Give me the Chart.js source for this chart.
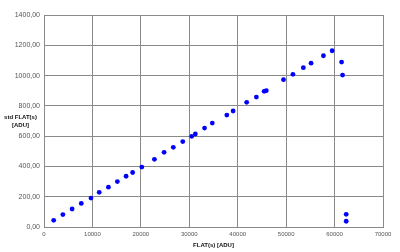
<!DOCTYPE html>
<html>
<head>
<meta charset="utf-8">
<script src="https://cdn.jsdelivr.net/npm/chart.js@4"></script>
<style>
html,body{margin:0;padding:0;background:#fff;}
#wrap{position:relative;width:400px;height:252px;}
#ytitle{position:absolute;left:0;top:113px;width:41px;text-align:center;font:bold 6px "Liberation Sans",Arial,sans-serif;line-height:8px;color:#111;}
</style>
</head>
<body>
<div id="wrap">
<canvas id="c" width="400" height="252"></canvas>
<div id="ytitle">std FLAT(s)<br>[ADU]</div>
</div>
<script>
const flatX = [2000, 3900, 5800, 7700, 9700, 11400, 13300, 15150, 16950, 18300, 20200, 22800, 24800, 26700, 28650, 30500, 31250, 33150, 34750, 37750, 39050, 41850, 43850, 45450, 45900, 49450, 51400, 53550, 55150, 57700, 59500, 61450, 61650, 62400, 62400];
const stdY = [44, 82, 119, 156, 191, 229, 263, 300, 335, 360, 396, 447, 493, 526, 564, 599, 614, 653, 686, 739, 766, 823, 858, 896, 900, 973, 1008, 1052, 1082, 1131, 1164, 1089, 1003, 84, 38];
const xTitle = "FLAT(s) [ADU]";

const points = flatX.map((x, i) => ({x: x, y: stdY[i]}));
const gridColor = '#8a8a8a';
const font = '"Liberation Sans", Arial, sans-serif';

new Chart(document.getElementById('c'), {
  type: 'scatter',
  data: {datasets: [{data: points, backgroundColor: '#0000ff', borderWidth: 0, pointRadius: 2.4, pointHoverRadius: 2.4}]},
  options: {
    responsive: false, animation: false,
    layout: {padding: {top: 15, right: 17, left: 0, bottom: 0}},
    plugins: {legend: {display: false}, tooltip: {enabled: false}},
    scales: {
      x: {
        type: 'linear', min: 0, max: 70000,
        grid: {color: gridColor, drawTicks: false, lineWidth: 1},
        border: {color: gridColor},
        ticks: {stepSize: 10000, autoSkip: false, maxRotation: 0, padding: 4, color: '#555', font: {family: font, size: 6},
          callback: v => String(v)},
        title: {display: true, text: xTitle, color: '#111', font: {family: font, size: 6, weight: 'bold'}, padding: {top: 0, bottom: 3}},
        afterFit: s => { s.height = 25; }
      },
      y: {
        type: 'linear', min: 0, max: 1400,
        grid: {color: gridColor, drawTicks: false, lineWidth: 1},
        border: {color: gridColor},
        ticks: {stepSize: 200, padding: 4, color: '#555', font: {family: font, size: 7},
          callback: v => v.toFixed(2).replace('.', ',')},
        afterFit: s => { s.width = 44; }
      }
    }
  }
});
</script>
</body>
</html>
